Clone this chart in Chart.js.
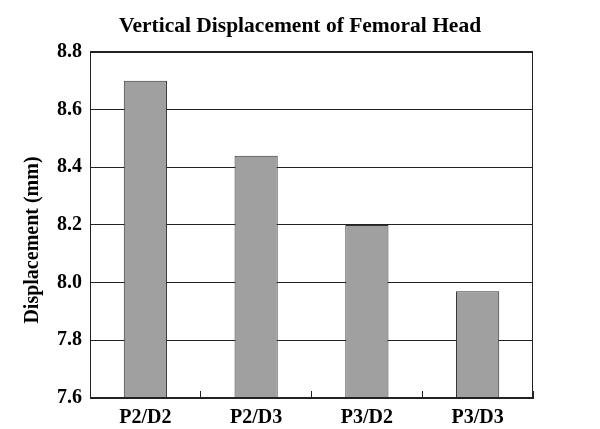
<!DOCTYPE html>
<html>
<head>
<meta charset="utf-8">
<script src="https://cdn.jsdelivr.net/npm/chart.js@4"></script>
<style>
  html, body { margin: 0; padding: 0; background: #fff; }
  #wrap { width: 600px; height: 429px; }
</style>
</head>
<body>
<div id="wrap"><canvas id="chart-displacement"></canvas></div>
<script>
const categories = ['P2/D2', 'P2/D3', 'P3/D2', 'P3/D3'];
const displacementValues = [8.70, 8.44, 8.20, 7.97];
const yTickMin = 7.6;
const yTickMax = 8.8;
const yTickStep = 0.2;
const chartTitle = 'Vertical Displacement of Femoral Head';
const yAxisTitle = 'Displacement (mm)';

const serif = '"Liberation Serif", "Times New Roman", serif';

// box round the plot and the rotated y title
const framePlugin = {
    id: 'frame',
    afterDatasetsDraw(chart) {
        const a = chart.chartArea;
        const ctx = chart.ctx;
        ctx.save();
        ctx.strokeStyle = '#222';
        ctx.lineWidth = 1;
        ctx.strokeRect(Math.round(a.left) + 0.5, Math.round(a.top) + 0.5,
            Math.round(a.right - a.left) - 1, Math.round(a.bottom - a.top) - 1);
        ctx.restore();
    },
    afterDraw(chart) {
        const ctx = chart.ctx;
        ctx.save();
        ctx.translate(33, 240);
        ctx.rotate(-Math.PI / 2);
        ctx.font = 'bold 20px ' + serif;
        ctx.fillStyle = '#000';
        ctx.textAlign = 'center';
        ctx.textBaseline = 'middle';
        ctx.fillText(yAxisTitle, 0, 0);
        ctx.restore();
    }
};

const ctxDisplacement = document.getElementById('chart-displacement').getContext('2d');

const chartDisplacement = new Chart(ctxDisplacement, {
    type: 'bar',
    data: {
        labels: categories,
        datasets: [
            {
                label: 'Displacement',
                data: displacementValues,
                backgroundColor: '#a0a0a0',
                borderColor: '#333',
                borderWidth: 1,
                categoryPercentage: 1,
                barPercentage: 0.39
            }
        ]
    },
    options: {
        responsive: true,
        maintainAspectRatio: false,
        animation: false,
        layout: { padding: 0 },
        plugins: {
            legend: { display: false },
            tooltip: { enabled: false },
            title: {
                display: true,
                text: chartTitle,
                color: '#000',
                font: { family: serif, size: 21.5, weight: 'bold' },
                padding: { top: 14, bottom: 12 }
            }
        },
        scales: {
            x: {
                afterFit(scale) { scale.height = 31; },
                grid: {
                    offset: true,
                    drawOnChartArea: false,
                    drawTicks: true,
                    tickLength: -7,
                    color: '#222',
                    lineWidth: 1
                },
                border: { display: true, color: '#222', width: 1 },
                ticks: {
                    color: '#000',
                    padding: 15,
                    font: { family: serif, size: 20, weight: 'bold' }
                }
            },
            y: {
                min: yTickMin,
                max: yTickMax,
                afterFit(scale) { scale.width = 90; },
                grid: {
                    color: '#222',
                    lineWidth: 1,
                    drawTicks: false
                },
                border: { display: true, color: '#222', width: 1 },
                ticks: {
                    stepSize: yTickStep,
                    color: '#000',
                    padding: 8,
                    font: { family: serif, size: 20, weight: 'bold' },
                    callback: function (v) { return Number(v).toFixed(1); }
                }
            },
            // empty right-hand spacer so the title stays centred on the page
            yRight: {
                position: 'right',
                min: yTickMin,
                max: yTickMax,
                afterFit(scale) { scale.width = 67; },
                grid: { display: false },
                border: { display: false },
                ticks: { display: false }
            }
        }
    },
    plugins: [framePlugin]
});
</script>
</body>
</html>
